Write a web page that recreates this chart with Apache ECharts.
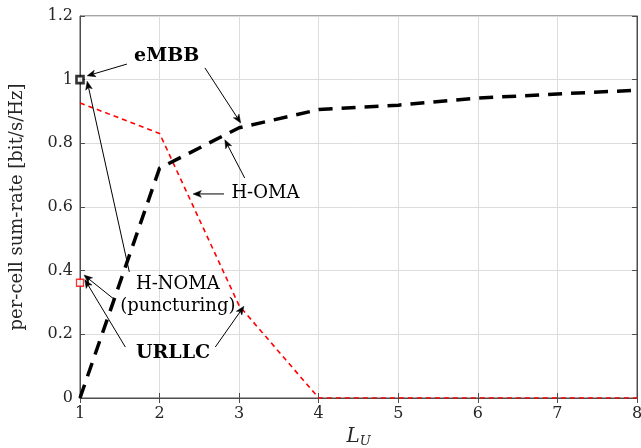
<!DOCTYPE html>
<html><head><meta charset="utf-8">
<script src="https://cdn.jsdelivr.net/npm/echarts@6/dist/echarts.min.js"></script>
<style>html,body{margin:0;padding:0;background:#fff}#c{width:641px;height:448px}</style>
</head><body><div id="c"></div>
<script>
const xValues = [1, 2, 3, 4, 5, 6, 7, 8];
const hOmaEmbb = [0, 0.722, 0.849, 0.906, 0.92, 0.942, 0.955, 0.967];
const hOmaUrllc = [0.927, 0.831, 0.29, 0, 0, 0, 0, 0];
const hNomaEmbb = [[1, 1.0]];
const hNomaUrllc = [[1, 0.362]];
const yTicks = [0, 0.2, 0.4, 0.6, 0.8, 1, 1.2];
// annotations in data coordinates
const labels = [
  {text: 'eMBB', at: [2.09, 1.074], bold: true},
  {text: 'H-OMA', at: [3.33, 0.644], bold: false},
  {text: 'H-NOMA', at: [2.23, 0.357], bold: false},
  {text: '(puncturing)', at: [2.23, 0.288], bold: false},
  {text: 'URLLC', at: [2.17, 0.141], bold: true}
];
const arrows = [
  [[1.59, 1.049], [1.09, 1.012]],
  [[2.57, 1.037], [3.02, 0.864]],
  [[2.81, 0.641], [2.42, 0.641]],
  [[3.07, 0.691], [2.82, 0.811]],
  [[1.62, 0.396], [1.09, 0.995]],
  [[1.44, 0.308], [1.05, 0.386]],
  [[1.57, 0.160], [1.06, 0.372]],
  [[2.70, 0.160], [3.06, 0.288]]
];
const serif = '"DejaVu Serif", "Liberation Serif", serif';
const chart = echarts.init(document.getElementById('c'));
const axisLine = {show: true, lineStyle: {color: '#4d4d4d', width: 1}};
chart.setOption({
  animation: false,
  grid: {left: 80, right: 4, top: 16, bottom: 50, show: true, borderColor: '#4d4d4d', borderWidth: 1,
    containLabel: false, outerBoundsMode: 'none'},
  xAxis: [{
    type: 'value', min: 1, max: 8, interval: 1,
    axisLine: axisLine,
    axisTick: {show: true, inside: true, length: 5, lineStyle: {color: '#4d4d4d'}},
    splitLine: {show: true, lineStyle: {color: '#dcdcdc', width: 1}},
    axisLabel: {fontFamily: serif, fontSize: 16, color: '#262626', margin: 8},
    name: '{l|L}{s|U}', nameLocation: 'middle', nameGap: 27,
    nameTextStyle: {rich: {l: {fontFamily: serif, fontStyle: 'italic', fontSize: 20, color: '#262626'},
      s: {fontFamily: serif, fontStyle: 'italic', fontSize: 13, color: '#262626', verticalAlign: 'bottom', padding: [10, 0, 0, 0]}}}
  }, {
    type: 'value', min: 1, max: 8, interval: 1, position: 'top',
    axisLine: axisLine, axisTick: {show: true, inside: true, length: 5, lineStyle: {color: '#4d4d4d'}},
    axisLabel: {show: false}, splitLine: {show: false}
  }],
  yAxis: [{
    type: 'value', min: 0, max: 1.2, interval: 0.2,
    axisLine: axisLine,
    axisTick: {show: true, inside: true, length: 5, lineStyle: {color: '#4d4d4d'}},
    splitLine: {show: true, lineStyle: {color: '#dcdcdc', width: 1}},
    axisLabel: {fontFamily: serif, fontSize: 16, color: '#262626', margin: 7,
      formatter: v => { const t = yTicks.find(k => Math.abs(k - v) < 1e-6); return String(t !== undefined ? t : v); }},
    name: 'per-cell sum-rate [bit/s/Hz]', nameLocation: 'middle', nameGap: 54,
    nameTextStyle: {fontFamily: serif, fontSize: 18, color: '#262626'}
  }, {
    type: 'value', min: 0, max: 1.2, interval: 0.2, position: 'right',
    axisLine: axisLine, axisTick: {show: true, inside: true, length: 5, lineStyle: {color: '#4d4d4d'}},
    axisLabel: {show: false}, splitLine: {show: false}
  }],
  series: [
    {type: 'line', data: xValues.map((x, i) => [x, hOmaUrllc[i]]), showSymbol: false, z: 5,
      lineStyle: {color: '#ff0000', width: 1.6, type: [5, 4]}},
    {type: 'line', data: xValues.map((x, i) => [x, hOmaEmbb[i]]), showSymbol: false, z: 6,
      lineStyle: {color: '#000000', width: 3.5, type: [14, 9]}},
    {type: 'scatter', data: hNomaEmbb, symbol: 'rect', symbolSize: 7, z: 7,
      itemStyle: {color: '#ffffff', borderColor: '#000000', borderWidth: 2.6}},
    {type: 'scatter', data: hNomaUrllc, symbol: 'rect', symbolSize: 7, z: 7,
      itemStyle: {color: '#ffffff', borderColor: '#ff0000', borderWidth: 1.3}}
  ]
});
function px(p) { return chart.convertToPixel({xAxisIndex: 0, yAxisIndex: 0}, p); }
const g = [];
labels.forEach(l => {
  const p = px(l.at);
  g.push({type: 'text', x: p[0], y: p[1], z: 20,
    style: {text: l.text, fontFamily: serif, fontSize: l.bold ? 19 : 18, fontWeight: l.bold ? 'bold' : 'normal',
      fill: '#000', align: 'center', verticalAlign: 'middle'}});
});
arrows.forEach(a => {
  const s = px(a[0]), e = px(a[1]);
  const ang = Math.atan2(e[1] - s[1], e[0] - s[0]);
  const L = 9, w = 0.38;
  const p1 = [e[0] - L * Math.cos(ang - w), e[1] - L * Math.sin(ang - w)];
  const p2 = [e[0] - L * Math.cos(ang + w), e[1] - L * Math.sin(ang + w)];
  const m = [e[0] - L * 0.7 * Math.cos(ang), e[1] - L * 0.7 * Math.sin(ang)];
  g.push({type: 'line', z: 20, shape: {x1: s[0], y1: s[1], x2: m[0], y2: m[1]}, style: {stroke: '#000', lineWidth: 1}});
  g.push({type: 'polygon', z: 20, shape: {points: [e, p1, m, p2]}, style: {fill: '#000', stroke: '#000', lineWidth: 0.5}});
});
chart.setOption({graphic: g});
</script></body></html>
